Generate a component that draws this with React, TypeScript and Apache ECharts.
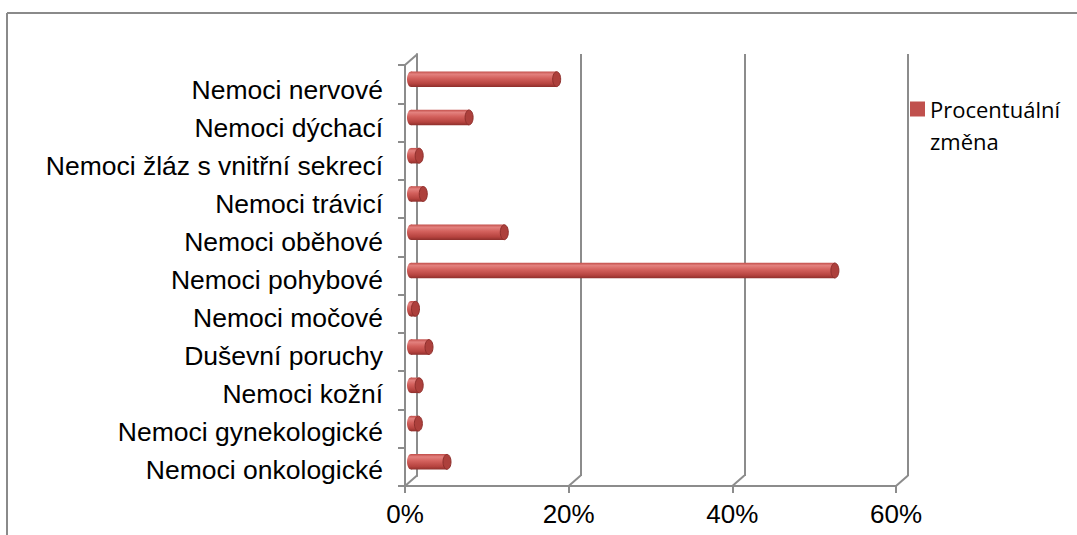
import React, { useEffect, useRef } from "react";
import * as echarts from "echarts";

const categories = [
  "Nemoci nervové",
  "Nemoci dýchací",
  "Nemoci žláz s vnitřní sekrecí",
  "Nemoci trávicí",
  "Nemoci oběhové",
  "Nemoci pohybové",
  "Nemoci močové",
  "Duševní poruchy",
  "Nemoci kožní",
  "Nemoci gynekologické",
  "Nemoci onkologické",
];
const values = [17.8, 7.1, 1.0, 1.5, 11.4, 51.8, 0.55, 2.2, 1.0, 0.9, 4.4];
const seriesName = "Procentuální změna";
const xTicks = [0, 20, 40, 60];

const DX = 12;
const DY = -10.5;
const GRID_COLOR = "#8c8c8c";
const LABEL_FONT = "'Liberation Sans', Arial, sans-serif";

export default function App() {
  const ref = useRef<HTMLDivElement>(null);
  useEffect(() => {
    if (!ref.current) return;
    const chart = echarts.init(ref.current, null, { renderer: "svg" });
    const barGradient = new echarts.graphic.LinearGradient(0, 0, 0, 1, [
      { offset: 0, color: "#c24e4a" },
      { offset: 0.18, color: "#e3817e" },
      { offset: 0.45, color: "#d3605c" },
      { offset: 0.8, color: "#b6433f" },
      { offset: 1, color: "#8e2f2c" },
    ]);
    const option: any = {
      animation: false,
      backgroundColor: "#ffffff",
      grid: [
        // back wall
        { left: 417, right: 1077 - 908, top: 54, bottom: 535 - 476 },
        // front plane
        { left: 405, right: 1077 - 896, top: 65, bottom: 535 - 486 },
        // mid depth (bars)
        { left: 411, right: 1077 - 902, top: 60, bottom: 535 - 481 },
        // category labels
        { left: 405, right: 1077 - 896, top: 71, bottom: 535 - 489 },
      ],
      xAxis: [
        {
          gridIndex: 0,
          type: "value",
          min: 0,
          max: 60,
          interval: 20,
          axisLine: { show: false },
          axisTick: { show: false },
          axisLabel: { show: false },
          splitLine: { show: true, lineStyle: { color: GRID_COLOR, width: 2 } },
        },
        {
          gridIndex: 1,
          type: "value",
          min: 0,
          max: 60,
          interval: 20,
          axisLine: { show: true, lineStyle: { color: GRID_COLOR, width: 2 } },
          axisTick: { show: true, length: 7, lineStyle: { color: GRID_COLOR, width: 2 } },
          axisLabel: {
            show: true,
            formatter: (v: number) => v + "%",
            color: "#000",
            fontSize: 26,
            fontFamily: LABEL_FONT,
            margin: 15,
          },
          splitLine: { show: false },
        },
        { gridIndex: 2, type: "value", min: 0, max: 60, interval: 20, show: false },
        { gridIndex: 3, type: "value", min: 0, max: 60, interval: 20, show: false },
      ],
      yAxis: [
        {
          gridIndex: 0,
          type: "category",
          inverse: true,
          data: categories,
          axisLine: { show: true, lineStyle: { color: GRID_COLOR, width: 2 } },
          axisTick: { show: false },
          axisLabel: { show: false },
        },
        {
          gridIndex: 1,
          type: "category",
          inverse: true,
          data: categories,
          axisLine: { show: true, lineStyle: { color: GRID_COLOR, width: 2 } },
          axisTick: { show: true, length: 7, lineStyle: { color: GRID_COLOR, width: 2 } },
          axisLabel: { show: false },
        },
        { gridIndex: 2, type: "category", inverse: true, data: categories, show: false },
        {
          gridIndex: 3,
          type: "category",
          inverse: true,
          data: categories,
          axisLine: { show: false },
          axisTick: { show: false },
          axisLabel: {
            show: true,
            color: "#000",
            fontSize: 26.5,
            fontFamily: LABEL_FONT,
            margin: 22,
          },
        },
      ],
      legend: {
        show: true,
        left: 905,
        top: 56,
        orient: "vertical",
        icon: "rect",
        itemWidth: 15,
        itemHeight: 15,
        itemGap: 6,
        formatter: () => "\nProcentuální\nzměna",
        textStyle: {
          fontFamily: "'Open Sans', sans-serif",
          fontSize: 22,
          lineHeight: 32,
          color: "#000",
        },
        data: [seriesName],
      },
      series: [
        {
          name: "frame3d",
          type: "custom",
          xAxisIndex: 1,
          yAxisIndex: 1,
          silent: true,
          z: 1,
          data: xTicks.map((t) => [t, 0]),
          renderItem: (params: any, api: any) => {
            const cs = params.coordSys;
            const v = api.value(0);
            const x = api.coord([v, 0])[0];
            const by = cs.y + cs.height;
            const children: any[] = [
              {
                type: "line",
                shape: { x1: x, y1: by, x2: x + DX, y2: by + DY },
                style: { stroke: GRID_COLOR, lineWidth: 2 },
              },
            ];
            if (params.dataIndex === 0) {
              children.push({
                type: "line",
                shape: { x1: cs.x, y1: cs.y, x2: cs.x + DX, y2: cs.y + DY },
                style: { stroke: GRID_COLOR, lineWidth: 2 },
              });
            }
            return { type: "group", children };
          },
        },
        {
          name: seriesName,
          type: "custom",
          xAxisIndex: 2,
          yAxisIndex: 2,
          z: 3,
          itemStyle: { color: "#C0504D" },
          data: values.map((v, i) => [v, i]),
          renderItem: (params: any, api: any) => {
            const v = api.value(0);
            const idx = api.value(1);
            const p1 = api.coord([v, idx]);
            const p0 = api.coord([0, idx]);
            const h = 15.5;
            const rx = 4;
            const yc = p1[1];
            return {
              type: "group",
              children: [
                {
                  type: "ellipse",
                  shape: { cx: p0[0], cy: yc, rx, ry: h / 2 },
                  style: { fill: barGradient },
                },
                {
                  type: "rect",
                  shape: { x: p0[0], y: yc - h / 2, width: Math.max(p1[0] - p0[0], 0), height: h },
                  style: { fill: barGradient },
                },
                {
                  type: "ellipse",
                  shape: { cx: p1[0], cy: yc, rx, ry: h / 2 - 0.3 },
                  style: { fill: "#ad403c", stroke: "#8e2f2c", lineWidth: 1 },
                },
              ],
            };
          },
        },
      ],
      graphic: [
        {
          type: "line",
          shape: { x1: 7, y1: 13, x2: 1077, y2: 13 },
          style: { stroke: "#8a8a8a", lineWidth: 2 },
          silent: true,
        },
        {
          type: "line",
          shape: { x1: 7, y1: 13, x2: 7, y2: 535 },
          style: { stroke: "#8a8a8a", lineWidth: 2 },
          silent: true,
        },
      ],
    };
    chart.setOption(option);
    return () => chart.dispose();
  }, []);
  return (
    <div
      ref={ref}
      style={{ position: "absolute", left: 0, top: 0, width: 1077, height: 535 }}
    />
  );
}
